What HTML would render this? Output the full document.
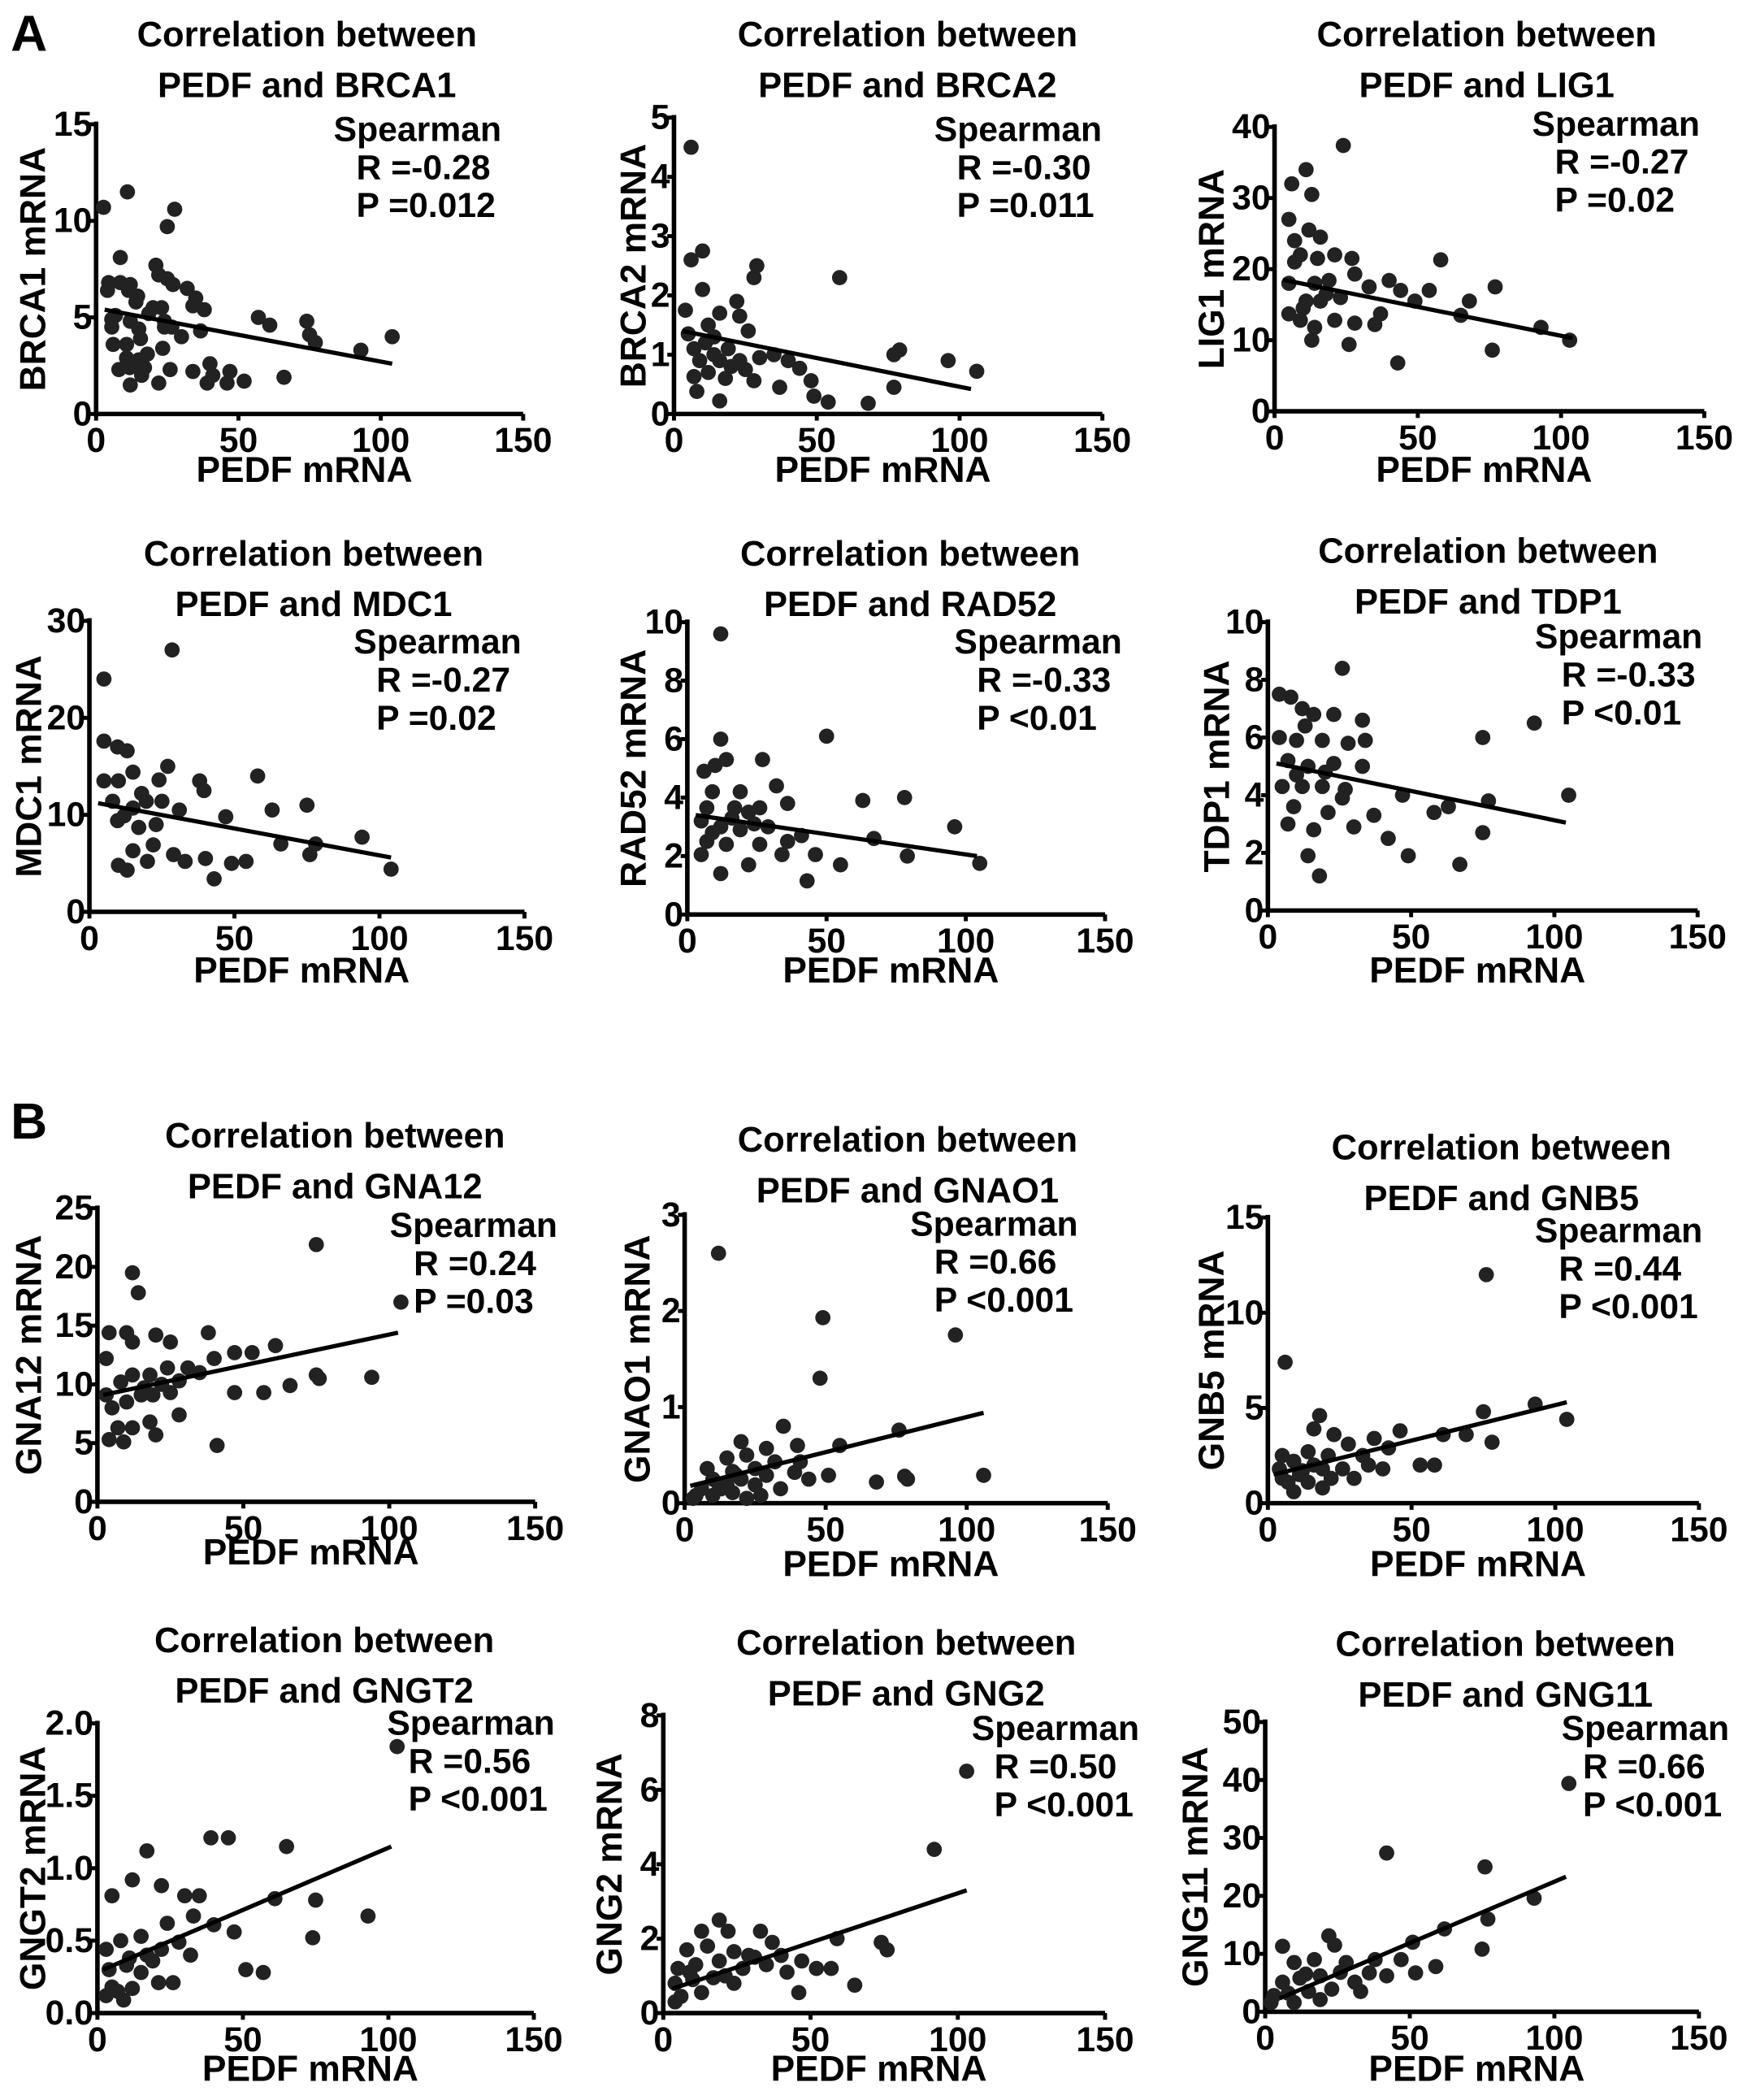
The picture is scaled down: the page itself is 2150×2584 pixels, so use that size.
<!DOCTYPE html>
<html><head><meta charset="utf-8"><style>
html,body{margin:0;padding:0;background:#fff;}
svg{display:block;}
text{font-family:"Liberation Sans",Arial,sans-serif;font-weight:bold;fill:#000;}
</style></head><body>
<svg id="fig" width="2150" height="2584" viewBox="0 0 1309 1573" xmlns="http://www.w3.org/2000/svg">
<rect width="1309" height="1573" fill="#fff"/>
<text x="8" y="38" font-size="38">A</text>
<text x="8" y="853" font-size="38">B</text>
</svg>
<script>
// ---- data (x = PEDF mRNA, y = gene mRNA) ----
const brca1X=[2.6,11,27.6,25,8.5,21,22,25,27,4.4,4,8.5,12,11.4,14.6,14,32,35,34,38,23,20,18.5,6.8,5.5,5.5,12,15,24,24,26.6,36.7,30,15.6,10.7,6,23.4,10.7,18,15,8,11.8,17,26,16,12,22,34,40,41,39,46,47,52,66,57,61,74,75,77,93,104];
const brca1Y=[10.7,11.5,10.6,9.7,8.1,7.7,7.2,7.0,6.7,6.8,6.4,6.8,6.7,6.4,6.1,5.8,6.5,6.0,5.6,5.4,5.5,5.5,5.2,5.1,4.9,4.5,4.8,4.4,4.8,4.5,4.5,4.3,4.0,3.9,3.6,3.6,3.4,2.9,3.1,2.8,2.3,2.4,2.4,2.3,2.0,1.5,1.6,2.2,2.6,2.0,1.6,1.6,2.2,1.7,1.9,5.0,4.6,4.8,4.1,3.7,3.3,4.0];
const brca2X=[6,6,10,4,10,16,23,26,28,29,22,12,7,14,19,9,16,23,30,35,40,44,7,12,18,28,37,8,16,49,54,68,58,77,79,96,106,77,48,5,11,20,25,14];
const brca2Y=[4.5,2.6,2.75,1.75,2.1,1.7,1.65,1.4,2.3,2.5,1.9,1.5,1.1,1.3,1.1,0.9,0.9,0.9,0.95,1.0,0.9,0.77,0.63,0.7,0.6,0.56,0.45,0.38,0.22,0.3,0.2,0.18,2.3,1.0,1.08,0.9,0.72,0.45,0.56,1.35,1.2,0.8,0.75,1.0];
const lig1X=[6,11,13,24,5,7,12,16,9,15,21,27,28,19,14,5,11,16,23,33,40,44,49,58,54,68,65,77,76,93,103,43,9,14,21,28,13,26,35,5,7,37,18,10];
const lig1Y=[32,34,30.5,37.4,27,24,25.5,24.5,22,21.5,22,21.5,19.3,18.4,18,18,15.5,15.5,16,17.5,18.4,17,15.5,21.3,17,15.5,13.5,17.5,8.6,11.8,10,6.8,12.8,11.8,12.8,12.4,10,9.4,12.2,13.7,21,13.7,16.5,14.5];
const mdc1X=[5,28.5,5,9.7,13,5,10,15,24,27,38,39.5,8,15,19.6,25,31,9.7,17,23,47,58,63,75,78,66,94,104,10,13,20,29,33,40,43,49,54,76,15,22,12,18];
const mdc1Y=[24,27,17.6,17,16.6,13.5,13.5,14.4,13.6,15,13.5,12.5,11.4,10.7,11.4,11.4,10.5,9.4,8.7,9,9.8,14,10.5,11,7,7,7.7,4.4,4.8,4.3,5.2,5.9,5.2,5.5,3.4,5,5.2,5.9,6.3,6.9,9.9,12.2];
const rad52X=[12,12,14,10,6,27,50,9,19,32,7,17,22,26,36,78,63,5,12,19,29,41,7,14,26,36,46,12,22,43,55,67,79,96,105,34,5,16,24,9];
const rad52Y=[9.6,6,5.3,5.1,4.9,5.3,6.1,4.2,4.2,4.4,3.65,3.65,3.5,3.65,3.8,4,3.9,3.2,3.0,2.9,3.0,2.7,2.5,2.4,2.4,2.5,2.05,1.4,1.7,1.15,1.7,2.6,2.0,3.0,1.75,2.05,2.05,3.3,3.1,2.8];
const tdp1X=[4,8,12,16,13,26,23,33,4,10,19,28,34,7,14,23,33,5,12,19,27,47,58,63,9,21,37,7,16,30,42,14,18,49,67,75,77,75,93,105,10,20,26];
const tdp1Y=[7.5,7.4,7.0,6.8,6.4,8.4,6.8,6.6,6,5.9,5.9,5.8,5.9,5.2,5.0,5.1,5.0,4.3,4.3,4.3,4.2,4.0,3.4,3.6,3.6,3.4,3.3,3.0,2.8,2.9,2.5,1.9,1.2,1.9,1.6,6.0,3.8,2.7,6.5,4.0,4.7,4.8,3.9];
const gna12X=[12,14,4,10,12,20,25,38,40,47,53,61,75,104,94,75,76,66,57,47,41,3,8,12,18,24,31,35,5,10,15,19,25,7,12,18,4,9,20,28,3,22,16,28];
const gna12Y=[19.5,17.8,14.4,14.4,13.6,14.2,13.6,14.4,12.2,12.7,12.7,13.3,21.9,17,10.6,10.8,10.5,9.9,9.3,9.3,4.8,9.1,10.2,10.8,10.8,11.4,11.4,11,8,8.5,9.1,9.1,9.3,6.3,6.3,6.8,5.3,5.1,5.7,7.4,12.2,10,9.7,10.3];
const gnao1X=[12,49,48,96,35,40,76,55,20,29,15,22,32,41,8,17,25,39,10,20,29,6,15,25,4,10,17,27,44,51,68,78,79,106,3,34,22,13,18,12];
const gnao1Y=[2.6,1.93,1.3,1.75,0.8,0.6,0.76,0.6,0.64,0.57,0.47,0.5,0.43,0.43,0.36,0.33,0.36,0.32,0.25,0.25,0.29,0.15,0.19,0.19,0.08,0.08,0.11,0.08,0.25,0.29,0.22,0.28,0.25,0.29,0.05,0.15,0.05,0.15,0.3,0.2];
const gnb5X=[6,76,93,104,75,78,69,61,46,53,58,18,16,23,28,37,42,5,9,14,21,33,4,12,19,26,35,7,14,22,9,19,30,5,40,11,16];
const gnb5Y=[7.4,12,5.2,4.4,4.8,3.2,3.6,3.6,3.8,2.0,2.0,4.6,3.9,3.6,3.1,3.4,2.9,2.5,2.2,2.7,2.5,2.5,1.8,1.7,1.8,1.8,2.0,1.1,1.1,1.3,0.6,0.8,1.3,1.3,1.8,1.5,2.0];
const gngt2X=[103,17,39,45,65,30,35,22,12,5,75,74,61,93,51,57,3,8,15,24,33,40,47,4,10,17,22,28,5,12,21,26,9,3,15,32,11,19,7];
const gngt2Y=[1.84,1.12,1.21,1.21,1.15,0.81,0.81,0.88,0.92,0.81,0.78,0.52,0.79,0.67,0.3,0.28,0.44,0.5,0.53,0.62,0.67,0.61,0.56,0.3,0.33,0.4,0.44,0.49,0.18,0.17,0.21,0.21,0.09,0.12,0.28,0.4,0.38,0.36,0.15];
const gng2X=[103,92,59,74,76,47,52,57,65,46,19,13,22,33,37,8,15,24,29,40,5,11,19,27,35,4,10,17,24,6,13,4,42,9,21,31];
const gng2Y=[6.5,4.4,2.0,1.9,1.7,1.4,1.2,1.2,0.75,0.55,2.5,2.2,2.2,2.2,1.9,1.7,1.8,1.65,1.55,1.55,1.2,1.3,1.4,1.2,1.3,0.8,0.9,0.95,0.8,0.45,0.55,0.3,1.1,1.1,1.0,1.5];
const gng11X=[105,42,76,77,75,93,62,47,52,59,38,51,6,22,24,10,17,28,36,42,6,12,19,31,3,8,15,23,33,2,10,19,14,26];
const gng11Y=[39.4,27.4,25,16,10.8,19.6,14.3,9,6.7,7.8,9,12,11.3,13.1,11.5,8.5,9,8.5,6.7,6.2,5.1,5.8,6.2,5.1,2.8,3.2,3.5,3.9,3.5,1.6,1.6,2.1,6.5,6.8];
// fit line endpoints [x1,y1,x2,y2] (data units)
const fitA1=[3,5.4,104,2.6], fitA2=[3,1.4,104,0.42], fitA3=[3,18.5,104,10.3], fitA4=[3,11.2,104,5.6], fitA5=[3,3.4,104,2.0], fitA6=[3,5.1,104,3.05];
const fitB1=[2,9.1,103,14.4], fitB2=[2,0.18,106,0.94], fitB3=[2,1.5,104,5.3], fitB4=[2,0.3,101,1.15], fitB5=[3,0.65,103,3.3], fitB6=[5,2.3,104,23.3];
const xTicks=[0,50,100,150];
const yTicksA1=[0,5,10,15], yTicksA2=[0,1,2,3,4,5], yTicksA3=[0,10,20,30,40], yTicksA4=[0,10,20,30], yTicksA5=[0,2,4,6,8,10], yTicksA6=[0,2,4,6,8,10];
const yTicksB1=[0,5,10,15,20,25], yTicksB2=[0,1,2,3], yTicksB3=[0,5,10,15], yTicksB4=[0,0.5,1,1.5,2], yTicksB5=[0,2,4,6,8], yTicksB6=[0,10,20,30,40,50];
const yLabB4=["0.0","0.5","1.0","1.5","2.0"];
const genes=["BRCA1","BRCA2","LIG1","MDC1","RAD52","TDP1","GNA12","GNAO1","GNB5","GNGT2","GNG2","GNG11"];
const rVals=["-0.28","-0.30","-0.27","-0.27","-0.33","-0.33","0.24","0.66","0.44","0.56","0.50","0.66"];
const pVals=["=0.012","=0.011","=0.02","=0.02","<0.01","<0.01","=0.03","<0.001","<0.001","<0.001","<0.001","<0.001"];

// ---- layout ----
const panels=[
 {x:brca1X,y:brca1Y,fit:fitA1,yt:yTicksA1,x0:72,y0:310,xe:392,yTop:93,tcx:230,t1:26,t2:64,sx:250,sy:97,rx:267,ylx:25,xly:352},
 {x:brca2X,y:brca2Y,fit:fitA2,yt:yTicksA2,x0:505,y0:310,xe:826,yTop:88,tcx:680,t1:26,t2:64,sx:700,sy:97,rx:717,ylx:475,xly:352},
 {x:lig1X,y:lig1Y,fit:fitA3,yt:yTicksA3,x0:955,y0:308,xe:1277,yTop:95,tcx:1114,t1:26,t2:64,sx:1148,sy:93,rx:1165,ylx:908,xly:352},
 {x:mdc1X,y:mdc1Y,fit:fitA4,yt:yTicksA4,x0:67,y0:683,xe:393,yTop:465,tcx:235,t1:415,t2:453,sx:265,sy:481,rx:282,ylx:22,xly:727},
 {x:rad52X,y:rad52Y,fit:fitA5,yt:yTicksA5,x0:515,y0:685,xe:828,yTop:466,tcx:682,t1:415,t2:453,sx:715,sy:481,rx:732,ylx:475,xly:727},
 {x:tdp1X,y:tdp1Y,fit:fitA6,yt:yTicksA6,x0:950,y0:682,xe:1272,yTop:466,tcx:1115,t1:413,t2:451,sx:1150,sy:477,rx:1170,ylx:912,xly:727},
 {x:gna12X,y:gna12Y,fit:fitB1,yt:yTicksB1,x0:73,y0:1125,xe:401,yTop:905,tcx:251,t1:851,t2:889,sx:292,sy:918,rx:310,ylx:22,xly:1163},
 {x:gnao1X,y:gnao1Y,fit:fitB2,yt:yTicksB2,x0:513,y0:1126,xe:830,yTop:910,tcx:680,t1:854,t2:892,sx:682,sy:917,rx:700,ylx:478,xly:1172},
 {x:gnb5X,y:gnb5Y,fit:fitB3,yt:yTicksB3,x0:950,y0:1126,xe:1273,yTop:912,tcx:1125,t1:860,t2:898,sx:1150,sy:922,rx:1168,ylx:908,xly:1172},
 {x:gngt2X,y:gngt2Y,fit:fitB4,yt:yTicksB4,lab:yLabB4,x0:73,y0:1508,xe:400,yTop:1291,tcx:243,t1:1229,t2:1267,sx:290,sy:1291,rx:306,ylx:25,xly:1550},
 {x:gng2X,y:gng2Y,fit:fitB5,yt:yTicksB5,x0:497,y0:1508,xe:828,yTop:1285,tcx:679,t1:1231,t2:1269,sx:728,sy:1295,rx:745,ylx:457,xly:1550},
 {x:gng11X,y:gng11Y,fit:fitB6,yt:yTicksB6,x0:948,y0:1507,xe:1273,yTop:1290,tcx:1128,t1:1232,t2:1270,sx:1170,sy:1295,rx:1186,ylx:896,xly:1550}
];
const NS="http://www.w3.org/2000/svg";
const svg=document.getElementById('fig');
function mk(tag,attrs,parent){const e=document.createElementNS(NS,tag);for(const k in attrs)e.setAttribute(k,attrs[k]);parent.appendChild(e);return e;}
function txt(s,attrs,parent){const e=mk('text',attrs,parent);e.textContent=s;return e;}
panels.forEach((p,i)=>{
  const g=mk('g',{},svg);
  
  
  const yMax=p.yt[p.yt.length-1];
  const sx=v=>p.x0+(v/150)*(p.xe-p.x0);
  const sy=v=>p.y0-(v/yMax)*(p.y0-p.yTop);
  const t1=txt('Correlation between',{x:p.tcx,y:p.t1,'font-size':26.5,'text-anchor':'middle','dominant-baseline':'central'},g);
  
  
  const t2=txt('PEDF and '+genes[i],{x:p.tcx,y:p.t2,'font-size':26.5,'text-anchor':'middle','dominant-baseline':'central'},g);
  
  
  const ax=mk('path',{d:`M${p.x0},${p.yTop-2}V${p.y0}H${p.xe}`,fill:'none',stroke:'#000','stroke-width':3.4},g);
  
  
  p.yt.forEach((v,k)=>{
    mk('line',{x1:p.x0-5,x2:p.x0,y1:sy(v),y2:sy(v),stroke:'#000','stroke-width':3},g);
    const t=txt(p.lab?p.lab[k]:String(v),{x:p.x0-3,y:sy(v),'font-size':26,'text-anchor':'end','dominant-baseline':'central'},g);
    
    
  });
  xTicks.forEach(v=>{
    mk('line',{x1:sx(v),x2:sx(v),y1:p.y0,y2:p.y0+5,stroke:'#000','stroke-width':3},g);
    const t=txt(String(v),{x:sx(v),y:p.y0+20,'font-size':26,'text-anchor':'middle','dominant-baseline':'central'},g);
    
    
  });
  const xl=txt('PEDF mRNA',{x:(p.x0+p.xe)/2-4,y:p.xly,'font-size':27,'text-anchor':'middle','dominant-baseline':'central'},g);
  
  
  const yc=(p.y0+p.yTop)/2;
  const yl=txt(genes[i]+' mRNA',{x:p.ylx,y:yc,'font-size':27,'text-anchor':'middle','dominant-baseline':'central',transform:`rotate(-90 ${p.ylx} ${yc})`},g);
  
  
  p.x.forEach((xv,k)=>{
    const c=mk('circle',{cx:sx(xv),cy:sy(p.y[k]),r:5.7,fill:'#222'},g);
    
    
  });
  const f=p.fit;
  const ln=mk('line',{x1:sx(f[0]),y1:sy(f[1]),x2:sx(f[2]),y2:sy(f[3]),stroke:'#000','stroke-width':3.2},g);
  
  
  const s1=txt('Spearman',{x:p.sx,y:p.sy,'font-size':26,'dominant-baseline':'central'},g);
  
  
  const s2=txt('R ='+rVals[i],{x:p.rx,y:p.sy+28.5,'font-size':26,'dominant-baseline':'central'},g);
  
  
  const s3=txt('P '+pVals[i],{x:p.rx,y:p.sy+57,'font-size':26,'dominant-baseline':'central'},g);
  
  
});
</script>
</body></html>
